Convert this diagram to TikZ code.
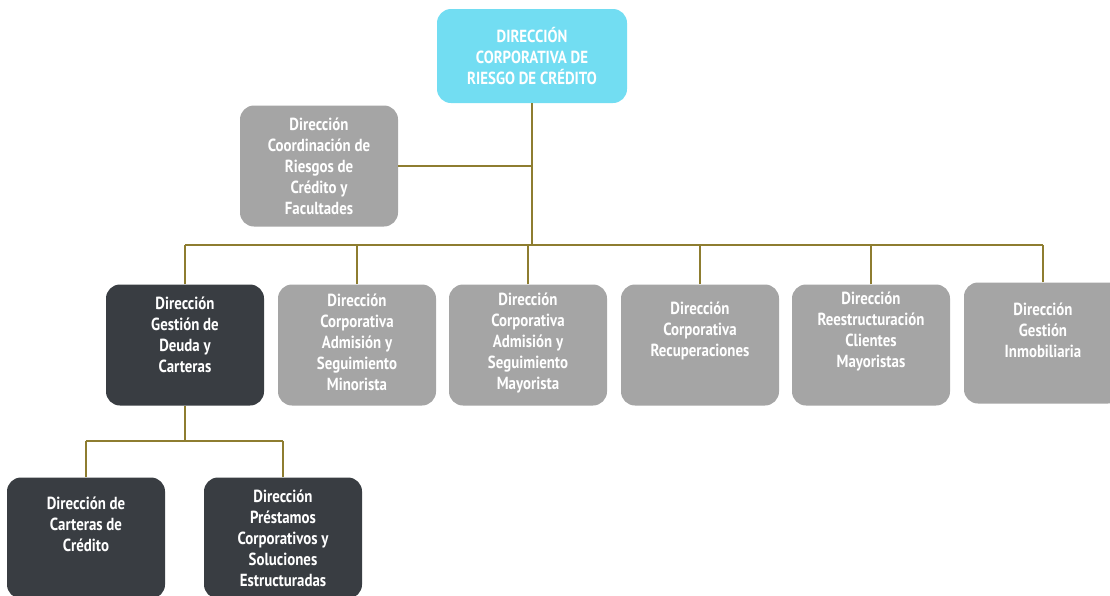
\documentclass[tikz,border=0pt]{standalone}
\usepackage{fontspec}
\setmainfont{PT Sans}[FakeStretch=0.85]
\definecolor{cyanbg}{RGB}{114,221,242}
\definecolor{greybg}{RGB}{165,165,165}
\definecolor{darkbg}{RGB}{57,61,66}
\definecolor{olive}{RGB}{142,125,48}
\begin{document}
\begin{tikzpicture}[x=1pt, y=-1pt,
    unit/.style={rounded corners=14pt, minimum width=158pt, minimum height=121pt, inner sep=0pt},
    greyunit/.style={unit, fill=greybg},
    darkunit/.style={unit, fill=darkbg},
    label txt/.style={text=white, font=\fontsize{17.5}{21}\selectfont\bfseries, align=center},
    link/.style={draw=olive, line width=2.6pt}]
\useasboundingbox (0,0) rectangle (1110,595);
% boxes
\node[unit, fill=cyanbg, minimum width=190pt, minimum height=94pt] (top) at (532,56) {};
\node[greyunit] (coord) at (319,166) {};
\node[darkunit] (deuda) at (185,345) {};
\node[greyunit] (mino) at (357,345) {};
\node[greyunit] (mayo) at (528,345) {};
\node[greyunit] (recu) at (700,345) {};
\node[greyunit] (rees) at (871,345) {};
\node[greyunit] (inmo) at (1043,343) {};
\node[darkunit] (cart) at (86,538) {};
\node[darkunit] (pres) at (283,538) {};
% texts
\node[label txt] (t-top) at (top) {DIRECCIÓN\\CORPORATIVA DE\\RIESGO DE CRÉDITO};
\node[label txt] (t-coord) at (coord) {Dirección\\Coordinación de\\Riesgos de\\Crédito y\\Facultades};
\node[label txt] (t-deuda) at ([yshift=10pt]deuda.center) {Dirección\\Gestión de\\Deuda y\\Carteras};
\node[label txt] (t-mino) at ([yshift=3pt]mino.center) {Dirección\\Corporativa\\Admisión y\\Seguimiento\\Minorista};
\node[label txt] (t-mayo) at ([yshift=2pt]mayo.center) {Dirección\\Corporativa\\Admisión y\\Seguimiento\\Mayorista};
\node[label txt] (t-recu) at ([yshift=14pt]recu.center) {Dirección\\Corporativa\\Recuperaciones};
\node[label txt] (t-rees) at ([yshift=14pt]rees.center) {Dirección\\Reestructuración\\Clientes\\Mayoristas};
\node[label txt] (t-inmo) at ([yshift=13pt]inmo.center) {Dirección\\Gestión\\Inmobiliaria};
\node[label txt] (t-cart) at ([yshift=14pt]cart.center) {Dirección de\\Carteras de\\Crédito};
\node[label txt] (t-pres) at (pres) {Dirección\\Préstamos\\Corporativos y\\Soluciones\\Estructuradas};
% lines
\coordinate (bus) at (535,245);
\coordinate (subbus) at (187,441);
\draw[link] (top.south) -- (top.south |- bus);
\draw[link] (coord.east) -- (coord.east -| top.south);
\draw[link] (deuda.north |- bus) -- (inmo.north |- bus);
\foreach \n in {deuda,mino,mayo,recu,rees,inmo}
{
    \draw[link] (\n.north) -- (\n.north |- bus);
}
\draw[link] (deuda.south) -- (deuda.south |- subbus);
\draw[link] (cart.north |- subbus) -- (pres.north |- subbus);
\foreach \n in {cart,pres}
{
    \draw[link] (\n.north) -- (\n.north |- subbus);
}
\end{tikzpicture}
\end{document}
